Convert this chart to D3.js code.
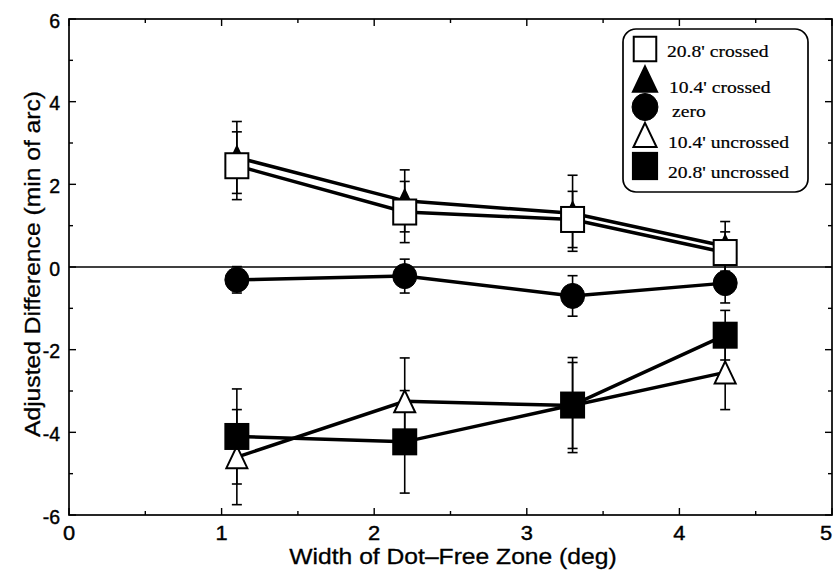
<!DOCTYPE html>
<html>
<head>
<meta charset="utf-8">
<script src="https://cdn.jsdelivr.net/npm/d3@7"></script>
<style>
  body { margin: 0; background: #fff; }
  .tick-label { font-family: "Liberation Sans", Arial, sans-serif; font-size: 19.5px; fill: #000; stroke: #000; stroke-width: 0.4px; }
  .axis-title { font-family: "Liberation Sans", Arial, sans-serif; font-size: 22px; fill: #000; stroke: #000; stroke-width: 0.3px; }
  .legend-label { font-family: "Liberation Serif", "Times New Roman", serif; font-size: 17.5px; fill: #000; stroke: #000; stroke-width: 0.2px; }
</style>
</head>
<body>
<div id="chart"></div>
<script>
// x positions (deg)
var widths = [1.1, 2.2, 3.3, 4.3];

// adjusted difference (min of arc) and error half-widths per condition
var crossed208 = [2.45, 1.33, 1.15, 0.35];
var crossed208Err = [0.82, 0.74, 0.68, 0.5];
var crossed104 = [2.65, 1.6, 1.3, 0.5];
var crossed104Err = [0.87, 0.75, 0.92, 0.6];
var zeroDisp = [-0.31, -0.22, -0.70, -0.39];
var zeroDispErr = [0.32, 0.41, 0.49, 0.48];
var uncrossed104 = [-4.6, -3.25, -3.35, -2.55];
var uncrossed104Err = [1.15, 1.05, 1.04, 0.9];
var uncrossed208 = [-4.1, -4.23, -3.34, -1.65];
var uncrossed208Err = [1.15, 1.24, 1.15, 0.6];

var legendNames = ["20.8' crossed", "10.4' crossed", "zero", "10.4' uncrossed", "20.8' uncrossed"];
var xTicks = [0, 1, 2, 3, 4, 5];
var yTicks = [-6, -4, -2, 0, 2, 4, 6];

var width = 834, height = 570;
var plotLeft = 69, plotRight = 832, plotTop = 19, plotBottom = 515;
var textStretch = 1.12; // the scanned figure's lettering is wider than the installed fonts

var svg = d3.select("#chart").append("svg")
  .attr("width", width)
  .attr("height", height);

svg.append("rect").attr("width", width).attr("height", height).attr("fill", "#fff");

var x = d3.scaleLinear().domain([0, 5]).range([plotLeft, plotRight]);
var y = d3.scaleLinear().domain([-6, 6]).range([plotBottom, plotTop]);

function stretch(sel) {
  sel.each(function() {
    var len = this.getComputedTextLength();
    d3.select(this).attr("textLength", len * textStretch).attr("lengthAdjust", "spacingAndGlyphs");
  });
}

// frame
svg.append("rect")
  .attr("x", plotLeft).attr("y", plotTop)
  .attr("width", plotRight - plotLeft).attr("height", plotBottom - plotTop)
  .attr("fill", "none").attr("stroke", "#000").attr("stroke-width", 1.7);

// inward ticks on all four sides
var xMinor = d3.range(0.5, 5, 1);
var yMinor = d3.range(-5, 6, 2);
function tickLines(vals, len, horizontal) {
  vals.forEach(function(v) {
    if (horizontal) {
      svg.append("line").attr("x1", x(v)).attr("x2", x(v)).attr("y1", plotBottom).attr("y2", plotBottom - len)
        .attr("stroke", "#000").attr("stroke-width", 1.4);
      svg.append("line").attr("x1", x(v)).attr("x2", x(v)).attr("y1", plotTop).attr("y2", plotTop + len)
        .attr("stroke", "#000").attr("stroke-width", 1.4);
    } else {
      svg.append("line").attr("x1", plotLeft).attr("x2", plotLeft + len).attr("y1", y(v)).attr("y2", y(v))
        .attr("stroke", "#000").attr("stroke-width", 1.4);
      svg.append("line").attr("x1", plotRight).attr("x2", plotRight - len).attr("y1", y(v)).attr("y2", y(v))
        .attr("stroke", "#000").attr("stroke-width", 1.4);
    }
  });
}
tickLines(xTicks, 7, true);
tickLines(xMinor, 4, true);
tickLines(yTicks, 7, false);
tickLines(yMinor, 4, false);

// tick labels (last one pulled in so it stays on the page)
svg.selectAll(".xlab").data(xTicks).enter().append("text")
  .attr("class", "tick-label")
  .attr("x", d => Math.min(x(d), width - 8)).attr("y", 540)
  .attr("text-anchor", "middle")
  .text(d => d)
  .call(stretch);

svg.selectAll(".ylab").data(yTicks).enter().append("text")
  .attr("class", "tick-label")
  .attr("x", 60).attr("y", d => y(d) + 8.5)
  .attr("text-anchor", "end")
  .text(d => d);

// axis titles
svg.append("text").attr("class", "axis-title")
  .attr("x", 453).attr("y", 564)
  .attr("text-anchor", "middle")
  .text("Width of Dot\u2013Free Zone (deg)")
  .call(stretch);

svg.append("text").attr("class", "axis-title")
  .attr("transform", "translate(40,264) rotate(-90)")
  .attr("text-anchor", "middle")
  .text("Adjusted Difference (min of arc)")
  .call(stretch);

// zero reference line
svg.append("line")
  .attr("x1", plotLeft).attr("x2", plotRight)
  .attr("y1", y(0)).attr("y2", y(0))
  .attr("stroke", "#000").attr("stroke-width", 1.5);

var series = [
  { vals: crossed208, err: crossed208Err, shape: "square", fill: "#fff" },
  { vals: crossed104, err: crossed104Err, shape: "triangle", fill: "#000" },
  { vals: zeroDisp, err: zeroDispErr, shape: "circle", fill: "#000" },
  { vals: uncrossed104, err: uncrossed104Err, shape: "triangle", fill: "#fff" },
  { vals: uncrossed208, err: uncrossed208Err, shape: "square", fill: "#000" }
];

var line = d3.line().x(d => x(d[0])).y(d => y(d[1]));

// error bars
series.forEach(function(s) {
  var g = svg.append("g");
  s.vals.forEach(function(v, i) {
    var cx = x(widths[i]);
    var lo = y(v - s.err[i]), hi = y(v + s.err[i]);
    g.append("line").attr("x1", cx).attr("x2", cx).attr("y1", lo).attr("y2", hi)
      .attr("stroke", "#000").attr("stroke-width", 1.6);
    [lo, hi].forEach(function(py) {
      g.append("line").attr("x1", cx - 5).attr("x2", cx + 5).attr("y1", py).attr("y2", py)
        .attr("stroke", "#000").attr("stroke-width", 1.6);
    });
  });
});

// connecting lines
series.forEach(function(s) {
  svg.append("path")
    .datum(s.vals.map((v, i) => [widths[i], v]))
    .attr("d", line)
    .attr("fill", "none")
    .attr("stroke", "#000")
    .attr("stroke-width", 3.5);
});

function drawMarker(g, shape, fill, cx, cy, scale) {
  scale = scale || 1;
  if (shape === "square") {
    var w = 23 * scale, h = 25 * scale;
    g.append("rect").attr("x", cx - w / 2).attr("y", cy - h / 2)
      .attr("width", w).attr("height", h)
      .attr("fill", fill).attr("stroke", "#000").attr("stroke-width", 2);
  } else if (shape === "circle") {
    g.append("ellipse").attr("cx", cx).attr("cy", cy)
      .attr("rx", 12 * scale).attr("ry", 12.5 * scale)
      .attr("fill", fill).attr("stroke", "#000").attr("stroke-width", 1);
  } else {
    var hw = 10.5 * scale, hh = 11 * scale;
    g.append("path")
      .attr("d", `M${cx},${cy - hh} L${cx + hw},${cy + hh} L${cx - hw},${cy + hh} Z`)
      .attr("fill", fill).attr("stroke", "#000").attr("stroke-width", 2)
      .attr("stroke-linejoin", "miter");
  }
}

// markers (crossed triangle sits beneath the crossed square)
var markerOrder = [1, 0, 2, 3, 4];
markerOrder.forEach(function(idx) {
  var s = series[idx];
  var g = svg.append("g");
  s.vals.forEach(function(v, i) {
    drawMarker(g, s.shape, s.fill, x(widths[i]), y(v));
  });
});

// legend
var legend = svg.append("g");
legend.append("rect")
  .attr("x", 623).attr("y", 29)
  .attr("width", 185).attr("height", 163)
  .attr("rx", 13).attr("ry", 13)
  .attr("fill", "#fff").attr("stroke", "#000").attr("stroke-width", 1.7);

var legendMarkerY = [49, 79, 107, 135, 166];
var legendTextY = [57, 93, 117, 148, 178];
var legendTextX = [667, 669, 672, 668, 668];
var legendScale = [0.98, 1.15, 1.08, 1.1, 1.05];
series.forEach(function(s, i) {
  drawMarker(legend, s.shape, s.fill, 645, legendMarkerY[i], legendScale[i]);
  legend.append("text").attr("class", "legend-label")
    .attr("x", legendTextX[i]).attr("y", legendTextY[i])
    .text(legendNames[i])
    .call(stretch);
});
</script>
</body>
</html>
